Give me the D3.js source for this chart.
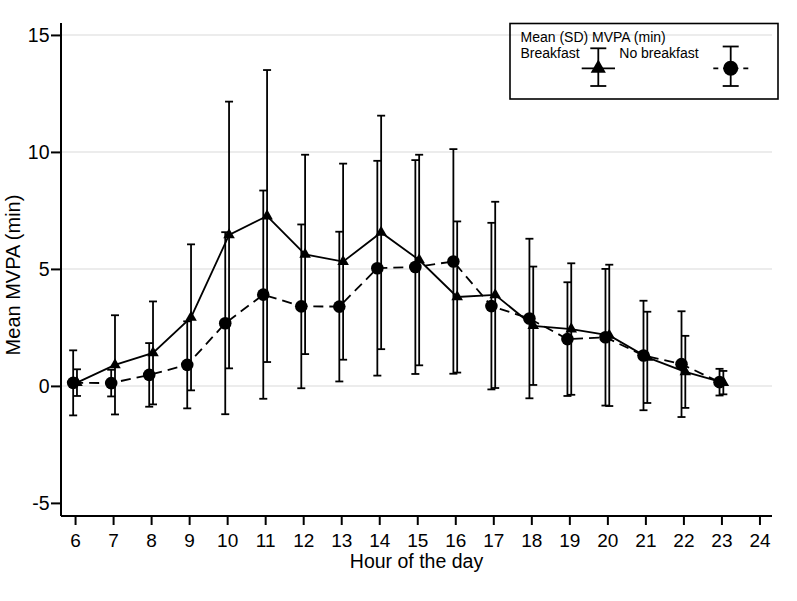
<!DOCTYPE html>
<html>
<head>
<meta charset="utf-8">
<script src="https://cdn.jsdelivr.net/npm/d3@7/dist/d3.min.js"></script>
<style>
  html, body { margin: 0; padding: 0; background: #fff; }
  svg { display: block; }
  text { font-family: "Liberation Sans", Arial, Helvetica, sans-serif; fill: #000; }
</style>
</head>
<body>
<svg id="chart" width="797" height="601"></svg>
<script>
// ---- data ----
const hours = [6, 7, 8, 9, 10, 11, 12, 13, 14, 15, 16, 17, 18, 19, 20, 21, 22, 23];
const breakfastMean = [0.14, 0.90, 1.41, 2.93, 6.45, 7.26, 5.62, 5.31, 6.56, 5.38, 3.80, 3.89, 2.57, 2.43, 2.16, 1.22, 0.60, 0.14];
const breakfastSD   = [0.57, 2.12, 2.20, 3.12, 5.70, 6.24, 4.26, 4.19, 4.99, 4.50, 3.23, 3.98, 2.53, 2.81, 3.02, 1.95, 1.54, 0.50];
const noBreakfastMean = [0.13, 0.12, 0.47, 0.90, 2.68, 3.90, 3.40, 3.39, 5.03, 5.08, 5.32, 3.41, 2.88, 2.00, 2.08, 1.30, 0.93, 0.16];
const noBreakfastSD   = [1.39, 0.57, 1.36, 1.86, 3.89, 4.45, 3.50, 3.20, 4.59, 4.57, 4.80, 3.56, 3.41, 2.43, 2.92, 2.34, 2.26, 0.57];
const xTicks = [6, 7, 8, 9, 10, 11, 12, 13, 14, 15, 16, 17, 18, 19, 20, 21, 22, 23, 24];
const yTicks = [-5, 0, 5, 10, 15];
const gridValues = [0, 5, 10, 15];
const xTitle = "Hour of the day";
const yTitle = "Mean MVPA (min)";
const legendTitle = "Mean (SD) MVPA (min)";
const seriesNames = ["Breakfast", "No breakfast"];

// ---- layout ----
const svg = d3.select("#chart");
const x = d3.scaleLinear().domain([5.63, 24.33]).range([61, 772]);
const y = d3.scaleLinear().domain([-5.56, 15.51]).range([516, 23]);
const offset = 0.05; // hours: breakfast right, no breakfast left

const series = [
  { name: seriesNames[0], mean: breakfastMean, sd: breakfastSD, dx: offset, dash: null, symbol: "triangle" },
  { name: seriesNames[1], mean: noBreakfastMean, sd: noBreakfastSD, dx: -offset, dash: "10,6", symbol: "circle" }
];

// grid
svg.append("g").selectAll("line").data(gridValues).join("line")
  .attr("x1", 62).attr("x2", 772)
  .attr("y1", d => y(d)).attr("y2", d => y(d))
  .attr("stroke", "#e6e6e6").attr("stroke-width", 1.5);

const capHalf = 4;
series.forEach(s => {
  const pts = hours.map((h, i) => ({ h: h + s.dx, m: s.mean[i], sd: s.sd[i] }));
  const g = svg.append("g");
  const eb = g.append("g").attr("stroke", "#000").attr("stroke-width", 1.8).attr("fill", "none");
  pts.forEach(p => {
    const cx = x(p.h);
    eb.append("line").attr("x1", cx).attr("x2", cx).attr("y1", y(p.m - p.sd)).attr("y2", y(p.m + p.sd));
    eb.append("line").attr("x1", cx - capHalf).attr("x2", cx + capHalf).attr("y1", y(p.m - p.sd)).attr("y2", y(p.m - p.sd));
    eb.append("line").attr("x1", cx - capHalf).attr("x2", cx + capHalf).attr("y1", y(p.m + p.sd)).attr("y2", y(p.m + p.sd));
  });
  s.pts = pts;
});

series.forEach(s => {
  const line = d3.line().x(p => x(p.h)).y(p => y(p.m));
  svg.append("path").datum(s.pts).attr("d", line)
    .attr("fill", "none").attr("stroke", "#000").attr("stroke-width", 1.8)
    .attr("stroke-dasharray", s.dash);
});

series.forEach(s => {
  const g = svg.append("g");
  if (s.symbol === "circle") {
    g.selectAll("circle").data(s.pts).join("circle")
      .attr("cx", p => x(p.h)).attr("cy", p => y(p.m)).attr("r", 6.3).attr("fill", "#000");
  } else {
    const tri = d3.symbol().type(d3.symbolTriangle).size(58);
    g.selectAll("path").data(s.pts).join("path")
      .attr("d", tri).attr("transform", p => `translate(${x(p.h)},${y(p.m)})`).attr("fill", "#000");
  }
});

// axes
const plainFmt = d => String(d);
const xAxis = svg.append("g").attr("transform", "translate(0,516)")
  .call(d3.axisBottom(x).tickValues(xTicks).tickSize(9).tickFormat(plainFmt));
xAxis.select(".domain").attr("stroke", "#000").attr("stroke-width", 2).attr("d", "M61,0H772");
xAxis.selectAll(".tick line").attr("stroke", "#000").attr("stroke-width", 2);
xAxis.selectAll(".tick text").attr("y", 30.5).attr("dy", "0").style("font-size", "19px")
  .style("font-family", '"Liberation Sans", Arial, sans-serif').attr("fill", "#000");

const yAxis = svg.append("g").attr("transform", "translate(61,0)")
  .call(d3.axisLeft(y).tickValues(yTicks).tickSize(10).tickFormat(plainFmt));
yAxis.select(".domain").attr("stroke", "#000").attr("stroke-width", 2).attr("d", "M0,23V516");
yAxis.selectAll(".tick line").attr("stroke", "#000").attr("stroke-width", 2);
yAxis.selectAll(".tick text").attr("x", -11.5).attr("dy", "0.36em").style("font-size", "19.5px")
  .style("font-family", '"Liberation Sans", Arial, sans-serif').attr("fill", "#000");

// titles
svg.append("text").attr("x", 416.5).attr("y", 568).attr("text-anchor", "middle")
  .style("font-size", "19.5px").text(xTitle);
svg.append("text").attr("transform", "translate(20,275) rotate(-90)").attr("text-anchor", "middle")
  .style("font-size", "20px").text(yTitle);

// legend
const lg = svg.append("g");
lg.append("rect").attr("x", 510).attr("y", 23.5).attr("width", 268).attr("height", 75.5)
  .attr("fill", "none").attr("stroke", "#000").attr("stroke-width", 1.6);
lg.append("text").attr("x", 520.5).attr("y", 41.5).style("font-size", "14px").text(legendTitle);
lg.append("text").attr("x", 520.5).attr("y", 58.3).style("font-size", "14px").text(seriesNames[0]);
lg.append("text").attr("x", 619.3).attr("y", 58.3).style("font-size", "14px").text(seriesNames[1]);

function legendKey(cx, top, bottom, mid, x1, x2, dash, symbol) {
  const k = lg.append("g").attr("stroke", "#000").attr("stroke-width", 1.8);
  k.append("line").attr("x1", x1).attr("x2", x2).attr("y1", mid).attr("y2", mid).attr("stroke-dasharray", dash);
  k.append("line").attr("x1", cx).attr("x2", cx).attr("y1", top).attr("y2", bottom);
  k.append("line").attr("x1", cx - 8).attr("x2", cx + 8).attr("y1", top).attr("y2", top);
  k.append("line").attr("x1", cx - 8).attr("x2", cx + 8).attr("y1", bottom).attr("y2", bottom);
  if (symbol === "circle") {
    lg.append("circle").attr("cx", cx).attr("cy", mid).attr("r", 7.5).attr("fill", "#000");
  } else {
    lg.append("path").attr("d", d3.symbol().type(d3.symbolTriangle).size(100)())
      .attr("transform", `translate(${cx},${mid})`).attr("fill", "#000");
  }
}
legendKey(598.3, 48.3, 86, 68.3, 581.7, 615, null, "triangle");
legendKey(730.7, 46.5, 86, 68.3, 713.3, 749.3, "5,5", "circle");
</script>
</body>
</html>
